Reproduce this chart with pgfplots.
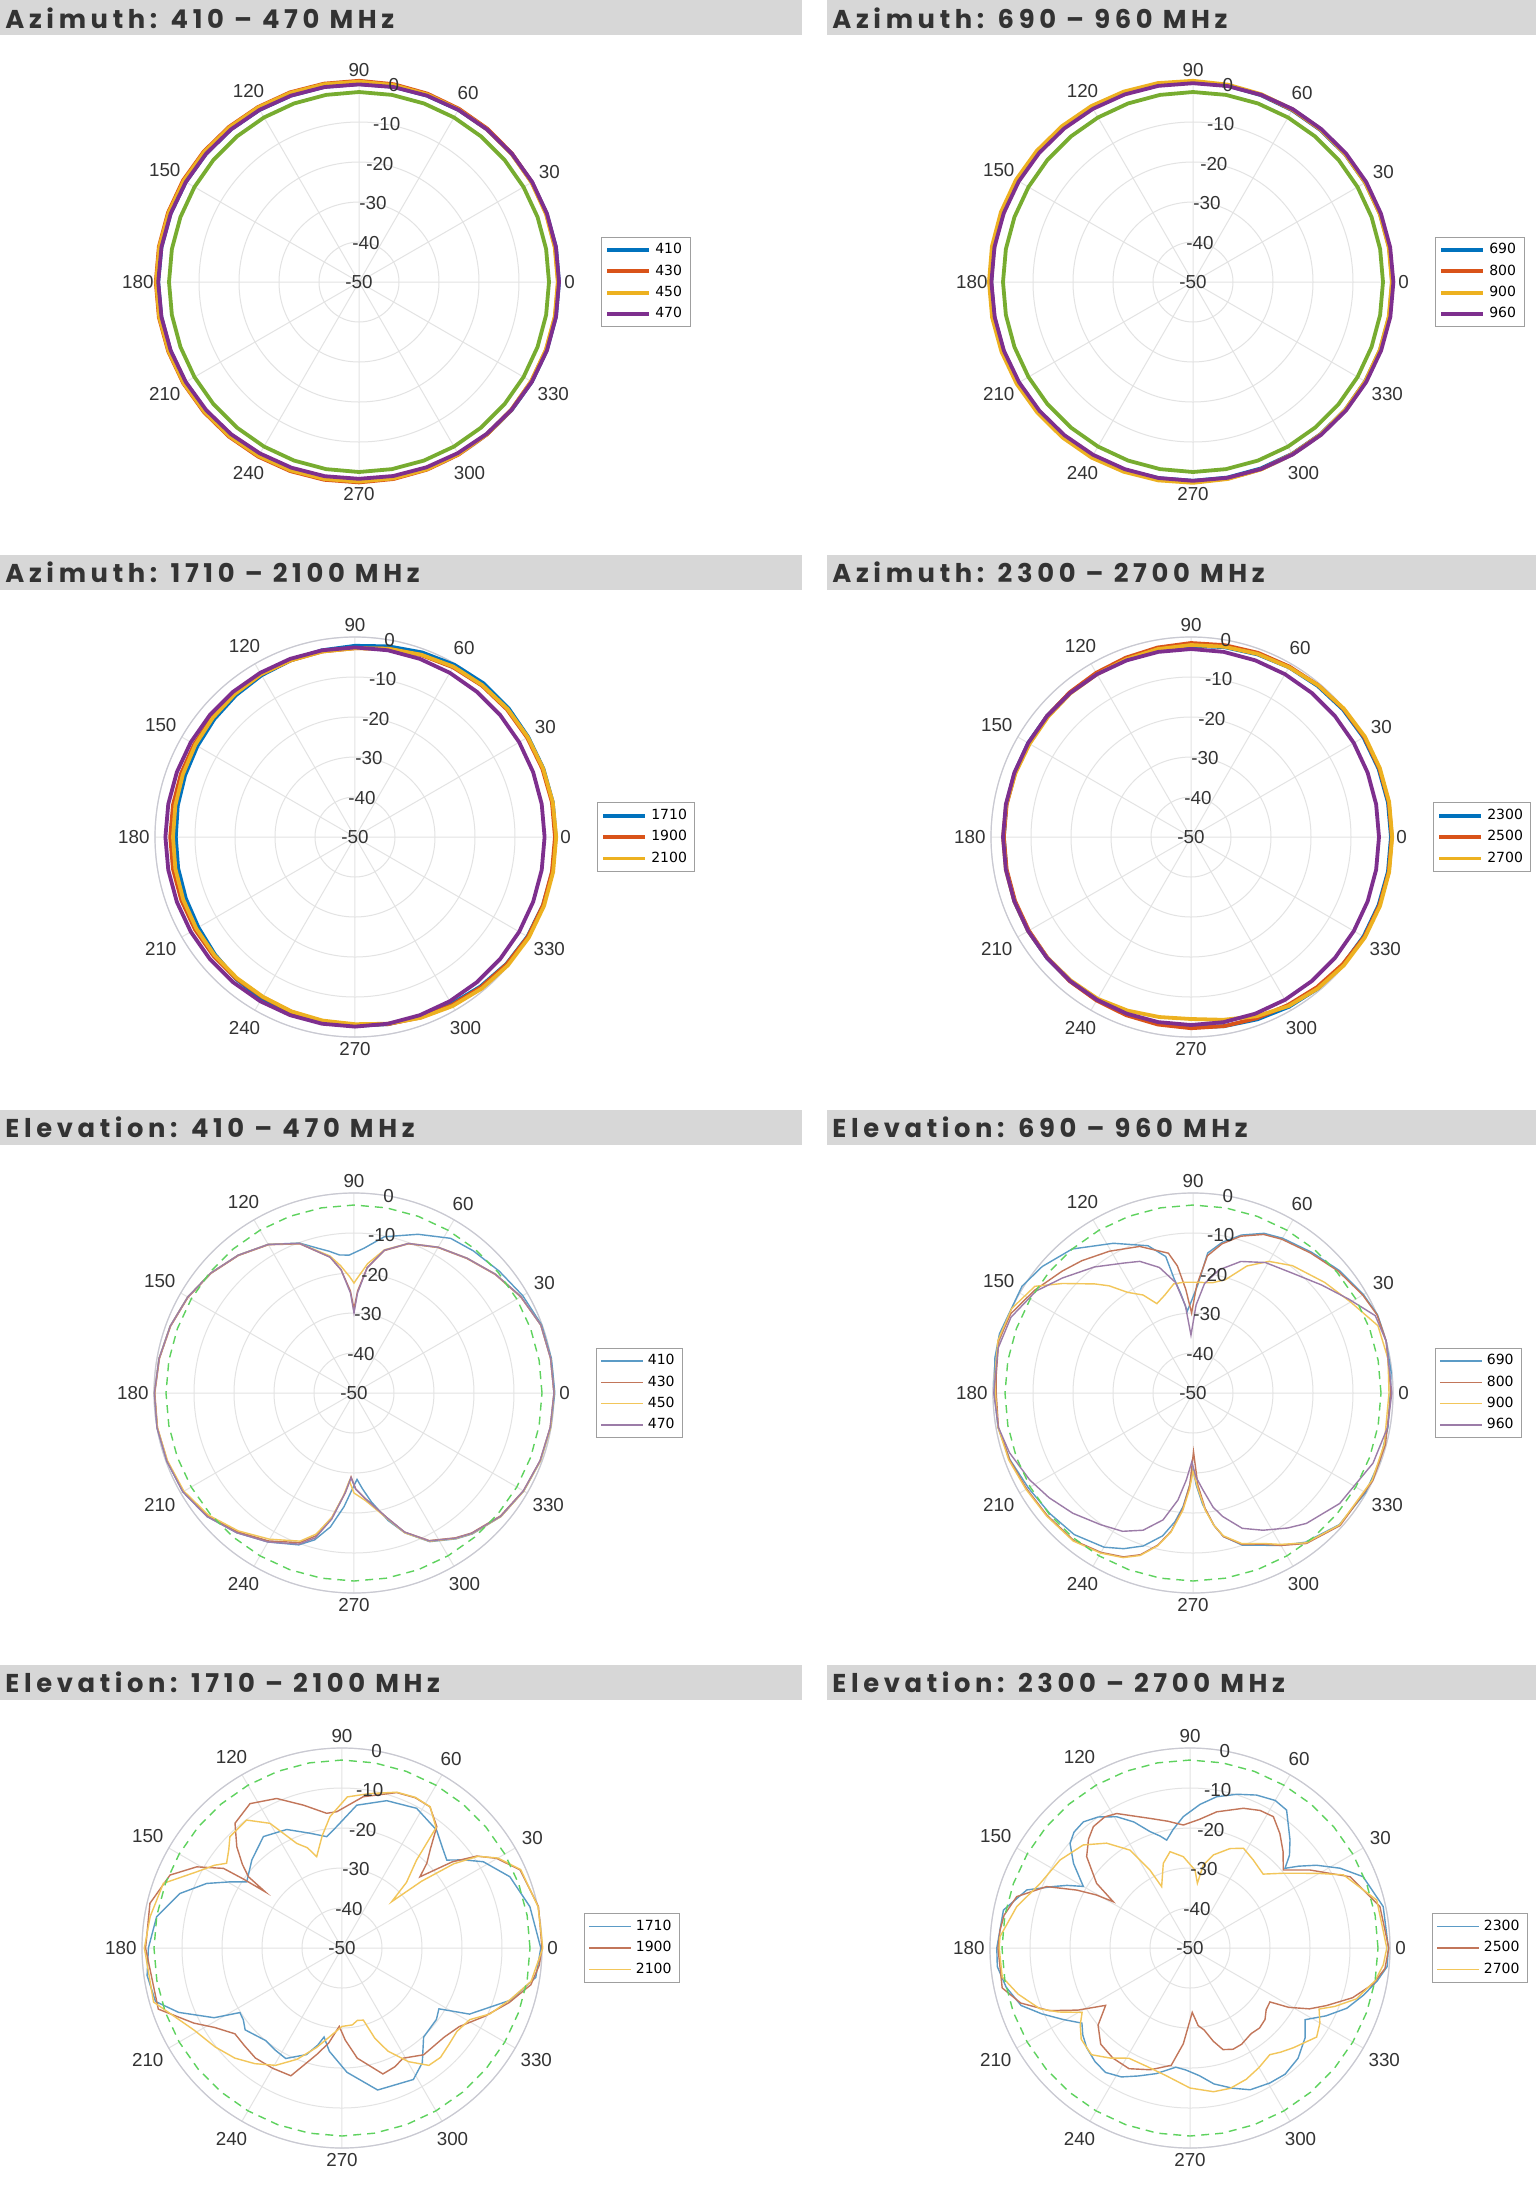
\documentclass[border=0pt]{standalone}
\usepackage{fontspec}
\setmainfont{Liberation Sans}
\newfontfamily\titlefont{Poppins}[LetterSpace=18]
\newfontfamily\legfont{DejaVu Sans}
\usepackage{pgfplots}
\usepackage{pgfplotstable}
\pgfplotsset{compat=1.18}
\usepgfplotslibrary{polar}

\definecolor{c1}{HTML}{0072BD}
\definecolor{c2}{HTML}{D95319}
\definecolor{c3}{HTML}{EDB120}
\definecolor{c4}{HTML}{7E2F8E}
\definecolor{c5}{HTML}{77AC30}
\definecolor{e1}{HTML}{5B9BC6}
\definecolor{e2}{HTML}{C2765A}
\definecolor{e3}{HTML}{F2C65A}
\definecolor{e4}{HTML}{9C7CA8}
\definecolor{gd}{HTML}{5ED25E}
\definecolor{barc}{HTML}{D7D7D7}
\definecolor{ttl}{HTML}{333333}
\definecolor{grd}{HTML}{E3E3E3}
\definecolor{rim}{HTML}{C9C9D2}

% azimuth data, dB, 10 degree steps
\pgfplotstableread{
a    s410  s430  s450  s470
0    0     -0.2  -0.3  0
10   0     -0.2  -0.3  0
20   -0.05 -0.15 -0.25 0
30   -0.1  -0.1  -0.2  0
40   -0.15 -0.05 -0.2  -0.1
50   -0.2  0     -0.2  -0.2
60   -0.3  0     -0.2  -0.3
70   -0.4  0.1   -0.1  -0.4
80   -0.45 0.2   0     -0.5
90   -0.5  0.3   0.1   -0.6
100  -0.45 0.35  0.2   -0.5
110  -0.4  0.45  0.3   -0.4
120  -0.3  0.5   0.4   -0.3
130  -0.2  0.6   0.45  -0.2
140  -0.1  0.7   0.55  -0.1
150  0     0.8   0.6   0
160  0.1   0.8   0.65  0.1
170  0.15  0.8   0.7   0.15
180  0.2   0.8   0.7   0.2
190  0.2   0.8   0.7   0.15
200  0.15  0.75  0.65  0.1
210  0.1   0.7   0.6   0
220  0     0.6   0.45  -0.15
230  -0.15 0.5   0.35  -0.3
240  -0.3  0.4   0.2   -0.5
250  -0.4  0.3   0.1   -0.6
260  -0.5  0.2   0     -0.7
270  -0.6  0.1   -0.1  -0.8
280  -0.55 0     -0.15 -0.75
290  -0.5  -0.1  -0.2  -0.7
300  -0.4  -0.2  -0.3  -0.6
310  -0.3  -0.25 -0.3  -0.4
320  -0.2  -0.3  -0.3  -0.25
330  -0.1  -0.3  -0.3  -0.1
340  -0.05 -0.25 -0.3  0
350  0     -0.2  -0.3  0
360  0     -0.2  -0.3  0
}\azA

\pgfplotstableread{
a    s690  s800  s900  s960
0    -0.2  -0.1  -0.3  0.1
10   -0.2  -0.15 -0.3  0.05
20   -0.25 -0.2  -0.3  0
30   -0.3  -0.2  -0.3  0
40   -0.35 -0.25 -0.3  -0.05
50   -0.4  -0.3  -0.25 -0.1
60   -0.4  -0.3  -0.2  -0.1
70   -0.3  -0.2  -0.05 -0.2
80   -0.15 -0.1  0.1   -0.25
90   0     0     0.3   -0.3
100  0.15  0.2   0.5   -0.2
110  0.3   0.35  0.65  -0.1
120  0.4   0.5   0.8   0
130  0.5   0.6   0.9   0.1
140  0.55  0.7   1.0   0.2
150  0.6   0.8   1.1   0.3
160  0.6   0.8   1.1   0.35
170  0.55  0.75  1.05  0.4
180  0.5   0.7   1.0   0.4
190  0.45  0.7   1.0   0.35
200  0.4   0.65  0.95  0.3
210  0.3   0.6   0.9   0.2
220  0.25  0.55  0.8   0.1
230  0.2   0.5   0.75  0
240  0.1   0.4   0.7   -0.1
250  -0.05 0.25  0.5   -0.2
260  -0.2  0.1   0.35  -0.25
270  -0.3  0     0.2   -0.3
280  -0.35 -0.1  0     -0.3
290  -0.4  -0.2  -0.15 -0.25
300  -0.4  -0.3  -0.3  -0.2
310  -0.35 -0.25 -0.3  -0.15
320  -0.3  -0.2  -0.3  -0.05
330  -0.3  -0.2  -0.3  0
340  -0.25 -0.15 -0.3  0.05
350  -0.2  -0.1  -0.3  0.1
360  -0.2  -0.1  -0.3  0.1
}\azB

\pgfplotstableread{
a    s1710 s1900 s2100
0    0.2   0     0.3
10   0.2   0     0.2
20   0.1   -0.15 0.05
30   0     -0.3  -0.1
40   0.1   -0.4  -0.2
50   0.1   -0.6  -0.45
60   -0.3  -1.0  -0.8
70   -0.9  -1.6  -1.5
80   -1.6  -2.2  -2.2
90   -2.2  -2.8  -2.8
100  -2.6  -2.9  -2.9
110  -3.0  -3.0  -3.0
120  -3.3  -3.0  -3.0
130  -3.7  -3.2  -3.3
140  -4.1  -3.4  -3.6
150  -4.5  -3.6  -3.9
160  -4.8  -3.7  -4.2
170  -5.0  -3.8  -4.4
180  -5.2  -3.8  -4.5
190  -5.1  -3.8  -4.4
200  -5.0  -3.8  -4.3
210  -4.8  -3.8  -4.2
220  -4.3  -3.8  -4.1
230  -3.7  -3.8  -4.0
240  -3.2  -3.8  -3.9
250  -3.0  -3.5  -3.6
260  -2.9  -3.2  -3.4
270  -2.8  -3.0  -3.2
280  -2.5  -2.5  -2.6
290  -2.2  -2.0  -1.9
300  -1.8  -1.5  -1.2
310  -1.2  -1.0  -0.6
320  -0.6  -0.5  -0.1
330  -0.2  -0.1  0.2
340  0     0     0.3
350  0.1   0     0.3
360  0.2   0     0.3
}\azC

\pgfplotstableread{
a    s2300 s2500 s2700
0    0     0.2   0.3
10   0     0.2   0.3
20   -0.1  0.1   0.25
30   -0.2  0     0.2
40   -0.4  -0.2  -0.1
50   -0.7  -0.5  -0.5
60   -1.0  -0.8  -1.0
70   -1.4  -1.0  -1.3
80   -1.8  -1.3  -1.7
90   -2.2  -1.5  -2.0
100  -2.4  -1.9  -2.3
110  -2.6  -2.3  -2.7
120  -2.8  -2.6  -3.0
130  -2.9  -2.8  -3.1
140  -3.0  -3.0  -3.3
150  -3.0  -3.2  -3.4
160  -3.1  -3.2  -3.3
170  -3.1  -3.2  -3.1
180  -3.2  -3.2  -3.0
190  -3.1  -3.2  -3.0
200  -3.0  -3.2  -3.0
210  -3.0  -3.2  -3.0
220  -3.0  -3.1  -3.1
230  -3.0  -2.9  -3.2
240  -3.0  -2.8  -3.3
250  -2.8  -2.6  -3.8
260  -2.6  -2.4  -4.3
270  -2.4  -2.2  -4.5
280  -2.0  -2.0  -3.6
290  -1.5  -1.8  -2.3
300  -1.0  -1.5  -1.2
310  -0.6  -1.0  -0.6
320  -0.4  -0.5  -0.1
330  -0.2  0     0.2
340  -0.1  0.1   0.3
350  0     0.2   0.3
360  0     0.2   0.3
}\azD

% reference circles
\pgfplotstableread{
a    r25  r26  r30
0    -2.5 -2.6 -3
10   -2.5 -2.6 -3
20   -2.5 -2.6 -3
30   -2.5 -2.6 -3
40   -2.5 -2.6 -3
50   -2.5 -2.6 -3
60   -2.5 -2.6 -3
70   -2.5 -2.6 -3
80   -2.5 -2.6 -3
90   -2.5 -2.6 -3
100  -2.5 -2.6 -3
110  -2.5 -2.6 -3
120  -2.5 -2.6 -3
130  -2.5 -2.6 -3
140  -2.5 -2.6 -3
150  -2.5 -2.6 -3
160  -2.5 -2.6 -3
170  -2.5 -2.6 -3
180  -2.5 -2.6 -3
190  -2.5 -2.6 -3
200  -2.5 -2.6 -3
210  -2.5 -2.6 -3
220  -2.5 -2.6 -3
230  -2.5 -2.6 -3
240  -2.5 -2.6 -3
250  -2.5 -2.6 -3
260  -2.5 -2.6 -3
270  -2.5 -2.6 -3
280  -2.5 -2.6 -3
290  -2.5 -2.6 -3
300  -2.5 -2.6 -3
310  -2.5 -2.6 -3
320  -2.5 -2.6 -3
330  -2.5 -2.6 -3
340  -2.5 -2.6 -3
350  -2.5 -2.6 -3
360  -2.5 -2.6 -3
}\refc

\tikzset{rl/.style={font=\fontsize{9.4}{11}\selectfont, text=ttl, inner sep=0pt}}
\pgfplotsset{
  pp/.style={
    scale only axis, width=200pt, height=200pt, anchor=center,
    xmin=0, xmax=360, ymin=-50, ymax=0,
    y coord trafo/.code={\pgfmathparse{##1+50}},
    y coord inv trafo/.code={\pgfmathparse{##1-50}},
    xtick={0,30,...,330}, ytick={-50,-40,...,0},
    /pgf/number format/assume math mode=true,
    xticklabel={\pgfmathprintnumber{\tick}},
    yticklabels={},
    xticklabel style={font=\fontsize{9.4}{11}\selectfont, text=ttl, inner sep=2.5pt},
    xmajorgrids, ymajorgrids,
    major grid style={grd, line width=0.5pt},
    x axis line style={rim, line width=0.6pt},
    y axis line style={draw=none},
    major tick length=0pt,
    clip=false,
    legend cell align=left,
    legend style={at={(1,0.5)}, anchor=west, xshift=21pt,
      font=\legfont\fontsize{7}{8}\selectfont, draw=gray!75,
      line width=0.5pt, inner xsep=2pt, inner ysep=1pt, row sep=0pt},
    legend image code/.code={\draw[##1] (0pt,0pt) -- (21pt,0pt);},
  },
  az/.style={line width=1.9pt},
  el/.style={line width=0.7pt},
  gdash/.style={el, gd, dash pattern=on 4pt off 3pt, forget plot},
}

\newcommand\rlabels{%
  \node[rl] at (axis cs:80,-50) {-50};
  \node[rl] at (axis cs:80,-40) {-40};
  \node[rl] at (axis cs:80,-30) {-30};
  \node[rl] at (axis cs:80,-20) {-20};
  \node[rl] at (axis cs:80,-10) {-10};
  \node[rl] at (axis cs:80,0) {0};
}
\newcommand\ttlfont{\titlefont\bfseries\fontsize{12.9}{14}\selectfont}

\begin{document}
\begin{tikzpicture}
\fill[white] (0,0) rectangle (768pt,-1101pt);

% title bars
\foreach \t in {0,277.3,554.75,832.25}{
  \fill[barc] (0pt,-\t pt) rectangle (401pt,-\t pt-17.5pt);
  \fill[barc] (413.5pt,-\t pt) rectangle (768pt,-\t pt-17.5pt);
}
\node[anchor=base west, inner sep=0, text=ttl, font=\ttlfont] at (2.5pt,-14pt) {Azimuth: 410 – 470 MHz};
\node[anchor=base west, inner sep=0, text=ttl, font=\ttlfont] at (416pt,-14pt) {Azimuth: 690 – 960 MHz};
\node[anchor=base west, inner sep=0, text=ttl, font=\ttlfont] at (2.5pt,-291.3pt) {Azimuth: 1710 – 2100 MHz};
\node[anchor=base west, inner sep=0, text=ttl, font=\ttlfont] at (416pt,-291.3pt) {Azimuth: 2300 – 2700 MHz};
\node[anchor=base west, inner sep=0, text=ttl, font=\ttlfont] at (2.5pt,-568.75pt) {Elevation: 410 – 470 MHz};
\node[anchor=base west, inner sep=0, text=ttl, font=\ttlfont] at (416pt,-568.75pt) {Elevation: 690 – 960 MHz};
\node[anchor=base west, inner sep=0, text=ttl, font=\ttlfont] at (2.5pt,-846.25pt) {Elevation: 1710 – 2100 MHz};
\node[anchor=base west, inner sep=0, text=ttl, font=\ttlfont] at (416pt,-846.25pt) {Elevation: 2300 – 2700 MHz};

% ---------- Azimuth 410-470
\begin{polaraxis}[pp, at={(179.5pt,-141pt)}]
\addplot[az, c1] table[x=a, y=s410] {\azA};
\addplot[az, c2] table[x=a, y=s430] {\azA};
\addplot[az, c3] table[x=a, y=s450] {\azA};
\addplot[az, c4] table[x=a, y=s470] {\azA};
\addplot[az, c5, forget plot] table[x=a, y=r25] {\refc};
\legend{410,430,450,470}
\rlabels
\end{polaraxis}

% ---------- Azimuth 690-960
\begin{polaraxis}[pp, at={(596.5pt,-141pt)}]
\addplot[az, c1] table[x=a, y=s690] {\azB};
\addplot[az, c2] table[x=a, y=s800] {\azB};
\addplot[az, c3] table[x=a, y=s900] {\azB};
\addplot[az, c4] table[x=a, y=s960] {\azB};
\addplot[az, c5, forget plot] table[x=a, y=r25] {\refc};
\legend{690,800,900,960}
\rlabels
\end{polaraxis}

% ---------- Azimuth 1710-2100
\begin{polaraxis}[pp, at={(177.5pt,-418.5pt)}]
\addplot[az, c1] table[x=a, y=s1710] {\azC};
\addplot[az, c2] table[x=a, y=s1900] {\azC};
\addplot[az, c3] table[x=a, y=s2100] {\azC};
\addplot[az, c4, forget plot] table[x=a, y=r26] {\refc};
\legend{1710,1900,2100}
\rlabels
\end{polaraxis}

% ---------- Azimuth 2300-2700
\begin{polaraxis}[pp, at={(595.5pt,-418.5pt)}]
\addplot[az, c1] table[x=a, y=s2300] {\azD};
\addplot[az, c2] table[x=a, y=s2500] {\azD};
\addplot[az, c3] table[x=a, y=s2700] {\azD};
\addplot[az, c4, forget plot] table[x=a, y=r30] {\refc};
\legend{2300,2500,2700}
\rlabels
\end{polaraxis}

% ---------- Elevation 410-470
\begin{polaraxis}[pp, at={(177pt,-696.5pt)}]
\addplot[el, e1] coordinates {(0,0.2) (10,0.1) (20,-0.1) (30,-1.3) (40,-2.6) (50,-3.6) (58,-4.4) (68,-7.2) (79,-10.2) (86,-13.7) (92,-15.5) (96,-15.3) (100,-14) (104,-12.7) (110,-10.1) (120,-7.1) (130,-5) (140,-3.3) (150,-2) (160,-1.1) (170,-0.5) (180,-0.1) (190,0) (200,-0.2) (210,-0.6) (220,-2) (230,-4.4) (240,-7) (250,-9.6) (255,-12) (260,-16) (265,-21.5) (269,-26) (272,-28.4) (275,-26) (279,-22.5) (285,-17) (290,-12.8) (297,-8.3) (305,-5.5) (310,-4) (320,-2) (330,-1) (340,-0.4) (350,-0.1) (360,0.2)};
\addplot[el, e2] coordinates {(0,0) (10,-0.1) (20,-0.3) (30,-1.9) (40,-3.9) (50,-6.1) (60,-8) (70,-10.3) (78,-13.6) (84,-18.5) (88,-24.5) (90,-29) (92,-24.5) (96,-19) (100,-15.5) (110,-10.3) (120,-7.2) (130,-5.1) (140,-3.4) (150,-2.1) (160,-1.2) (170,-0.6) (180,-0.2) (190,-0.1) (200,-0.3) (210,-0.7) (220,-2.2) (230,-4.7) (240,-7.3) (250,-10.2) (255,-13) (260,-18.5) (265,-25) (268,-29) (271,-26) (276,-23.5) (285,-17.6) (290,-13) (297,-8.6) (305,-5.8) (310,-4.3) (320,-2.2) (330,-1.1) (340,-0.5) (350,-0.2) (360,0)};
\addplot[el, e3] coordinates {(0,0) (10,-0.1) (20,-0.3) (30,-1.8) (40,-3.8) (50,-6) (60,-7.9) (70,-10.2) (78,-13.4) (84,-17.5) (88,-21) (90,-22.5) (92,-21) (96,-18) (100,-15.2) (110,-10.2) (120,-7.1) (130,-5) (140,-3.3) (150,-2) (160,-1.1) (170,-0.5) (180,-0.1) (190,-0.1) (200,-0.4) (210,-0.9) (220,-2.5) (230,-5) (240,-7.8) (250,-10.6) (255,-13.5) (260,-18.5) (264,-24) (267,-28) (270,-25) (276,-23) (285,-17.4) (290,-12.8) (297,-8.4) (305,-5.6) (310,-4.1) (320,-2) (330,-1) (340,-0.4) (350,-0.1) (360,0)};
\addplot[el, e4] coordinates {(0,0) (10,-0.1) (20,-0.3) (30,-1.8) (40,-3.8) (50,-6) (60,-7.9) (70,-10.2) (78,-13.5) (84,-18.5) (88,-25) (90,-30) (92,-25) (96,-19) (100,-15.5) (110,-10.2) (120,-7.1) (130,-5) (140,-3.3) (150,-2) (160,-1.1) (170,-0.5) (180,-0.1) (190,0) (200,-0.2) (210,-0.6) (220,-2) (230,-4.4) (240,-7) (250,-9.8) (255,-12.5) (260,-18) (265,-25) (268,-28.8) (271,-26) (276,-23.5) (285,-17.6) (290,-13) (297,-8.5) (305,-5.7) (310,-4.2) (320,-2.1) (330,-1.1) (340,-0.5) (350,-0.2) (360,0)};
\addplot[gdash] table[x=a, y=r30] {\refc};
\legend{410,430,450,470}
\rlabels
\end{polaraxis}

% ---------- Elevation 690-960
\begin{polaraxis}[pp, at={(596.5pt,-696.5pt)}]
\addplot[el, e1] coordinates {(0,-0.7) (6,-0.2) (15,0) (23,0.1) (30,-0.8) (40,-2.3) (50,-4) (60,-5.3) (66,-6.3) (73,-8.7) (79,-11.6) (84,-14.8) (87.5,-23) (91,-27) (94,-29.5) (97,-25) (99.4,-21) (101.3,-15.2) (107,-11.5) (118,-7.6) (130,-3) (140,-0.8) (148,0.4) (163,0.6) (170,0.3) (180,-0.3) (190,-0.5) (200,-1.3) (210,-2.5) (220,-3.2) (230,-3.8) (240,-5.5) (246,-7.4) (252,-9.8) (258,-13.5) (262,-17.5) (265,-21.5) (268,-27) (270,-31) (272,-27) (275,-22) (279,-16.5) (282,-13.3) (288,-10) (295,-8) (300,-6) (307,-3.3) (318,-0.8) (330,-0.2) (340,-0.3) (350,-0.5) (360,-0.7)};
\addplot[el, e2] coordinates {(0,-0.5) (15,0) (23,0) (30,-1) (40,-2.6) (50,-4.3) (60,-5.6) (66,-6.6) (73,-9) (79,-12) (84,-15.5) (88,-23) (91,-30) (94,-24) (97,-18) (100,-14.5) (110,-11) (120.5,-8.85) (130,-6.8) (137,-5.3) (147,-2.8) (156.5,-0.3) (165,0.3) (175,-0.6) (180,-0.8) (190,-0.6) (200,-1.2) (210,-2) (220,-2.4) (231,-2.6) (240,-4) (247,-5.5) (252,-7.5) (257,-11) (261,-15) (265,-21) (268,-27) (270.5,-35.3) (273,-27) (276,-21) (279,-16.5) (282,-13.3) (288,-10.2) (295,-8.3) (300,-6) (307,-2.9) (318,-0.5) (334,0) (345,-0.2) (360,-0.5)};
\addplot[el, e3] coordinates {(0,-1) (10,-0.5) (20,-0.8) (30,-4.5) (40,-7) (52,-9.6) (60,-12) (67,-15.5) (74,-20.5) (80,-22) (88,-22.3) (95,-22.2) (100,-22.3) (106,-24.5) (112,-25.9) (117,-22.5) (123,-20) (128,-16) (132,-13.3) (140,-7.4) (146,-2.3) (155,0) (165,0.5) (175,-0.3) (180,-0.6) (190,-0.5) (200,-1) (210,-1.8) (220,-2.2) (231,-2.4) (240,-3.8) (247,-5.3) (252,-7.3) (257,-10.8) (261,-14.8) (265,-20.5) (268,-26) (270,-30.5) (273,-26) (276,-20.5) (279,-16.5) (282,-13.5) (288,-10.4) (295,-8.5) (300,-6.3) (307,-3.1) (318,-0.7) (334,-0.2) (345,-0.5) (360,-1)};
\addplot[el, e4] coordinates {(0,-0.3) (15,0) (23,-0.5) (31,-4.5) (40,-8) (50,-11) (61,-12.7) (70,-15) (78,-18.5) (84,-22.5) (88,-28) (92,-35.5) (95,-28) (99,-22) (105,-17.5) (112,-14.5) (118,-13.2) (128,-10) (138.6,-6.5) (147,-3.2) (157.4,-0.7) (167,0) (180,-0.2) (190,-0.6) (198,-1.75) (208,-3.75) (216,-5.5) (225,-7.5) (235,-9.8) (243,-11.2) (250,-13.5) (256.7,-17.4) (262,-23) (265.6,-28.2) (269,-32.8) (272,-29) (275.9,-25.6) (280,-21) (283.6,-18.2) (290,-14) (297,-11.5) (305,-8.8) (311,-6.8) (323,-4.1) (338.7,-1.7) (350,-0.6) (360,-0.3)};
\addplot[gdash] table[x=a, y=r30] {\refc};
\legend{690,800,900,960}
\rlabels
\end{polaraxis}

% ---------- Elevation 1710-2100
\begin{polaraxis}[pp, at={(171pt,-974pt)}]
\addplot[el, e1] coordinates {(0,-0.3) (12.4,-1.9) (23,-4.4) (31.4,-8.6) (36,-12.5) (40,-15.8) (45,-14.5) (51.3,-12.2) (61.9,-10.4) (73.1,-11.5) (84.1,-14.1) (92.5,-19.6) (97.8,-21.9) (105.6,-20.2) (115,-17.3) (125.2,-15.9) (135.7,-18.5) (145.2,-21) (149.4,-17.5) (154.5,-12.5) (161.4,-7.25) (170.4,-3) (180,-1.6) (188,-0.8) (196,-1.5) (201.5,-6.1) (208.6,-13.6) (212.3,-19.8) (216,-19.5) (220.2,-18.3) (230.4,-20) (237,-19.5) (243,-19) (251.5,-21.9) (256,-25) (258.6,-27.3) (263,-24) (272.3,-18.9) (284.1,-13.4) (298.5,-12.6) (305,-15) (312.5,-19.8) (322.9,-20.4) (327.9,-21.4) (332.6,-14.1) (342.8,-5.9) (351.4,-1) (360,-0.3)};
\addplot[el, e2] coordinates {(0,0) (11.9,0.2) (23.7,-1.4) (30.1,-5.3) (34.3,-9.2) (38,-15) (42.4,-23.6) (45,-20) (48.1,-17) (52,-11.5) (58.1,-8.4) (64,-8.2) (70.6,-8.8) (82,-11.8) (92.2,-15.9) (96.5,-16.1) (105.1,-13) (113.6,-9.2) (122.5,-7.2) (130.6,-8.9) (136.1,-13.5) (140,-17.5) (142.7,-20.6) (143.8,-26.2) (145,-20) (146.1,-14.3) (150.8,-8.4) (157,-3.3) (166.9,-0.7) (180,-0.9) (198.4,-1.6) (206.9,-8.5) (212,-12.5) (218.7,-15.7) (225,-15.5) (231.8,-15) (240,-15.3) (248.2,-15.6) (256.6,-22.6) (262,-26) (268,-30.4) (272,-27) (277.9,-22.2) (288,-16.9) (294,-17.5) (299,-18.5) (307.4,-16.4) (318.9,-16.1) (326.2,-14.7) (334.5,-10.4) (342,-6) (349,-1.9) (355,-0.5) (360,0)};
\addplot[el, e3] coordinates {(0,0.2) (11.9,0.1) (23.7,-1.2) (30,-5) (34,-9) (37,-15) (40,-24) (43,-33) (45.5,-27) (49.7,-21.2) (52,-11.8) (58,-8.4) (64,-8.1) (70.6,-8.7) (80,-10.8) (88,-12.2) (95.2,-17) (100,-21.5) (105.5,-26.3) (109,-23.5) (113.4,-21.5) (120,-14) (126.7,-10.1) (135.2,-10.5) (139,-12.5) (143.7,-14.2) (147,-12) (152.3,-9) (160.1,-2.5) (170.7,-1.4) (180,-0.6) (196,-1) (209,-7.7) (218,-9.8) (225.8,-11.6) (233,-13.8) (240.5,-16.3) (248,-20) (255.6,-24.3) (263,-28) (270,-30.4) (277.6,-30.6) (282,-31.5) (286.5,-31.2) (290,-26) (294,-21.8) (300.3,-17.1) (306.5,-13.5) (312,-13.2) (318,-14) (324,-14.5) (330.7,-13.4) (336,-9.5) (343,-6) (350,-2) (360,0.2)};
\addplot[gdash] table[x=a, y=r30] {\refc};
\legend{1710,1900,2100}
\rlabels
\end{polaraxis}

% ---------- Elevation 2300-2700
\begin{polaraxis}[pp, at={(595pt,-974pt)}]
\addplot[el, e1] coordinates {(0,-0.4) (12.1,-0.6) (22.4,-3.2) (28,-7.5) (33.2,-12.2) (37,-16) (40,-19) (43,-16) (47.2,-13.2) (55,-7.9) (60,-7.4) (66.5,-8.3) (73,-9.8) (80,-11.6) (86,-14) (92.9,-17.1) (98,-20) (102.2,-22.4) (105,-21) (109,-19.2) (114,-15.5) (119.2,-12.4) (125,-10) (130.2,-8.7) (135,-9) (138.9,-10.2) (144,-14) (150,-19.2) (153,-15.5) (155.8,-12.5) (160.4,-6.7) (168.5,-2.4) (180,-1.7) (185.5,-1.6) (192,-3) (198.8,-5.4) (204,-9.5) (209.4,-13.6) (214.8,-17.1) (219,-15.5) (224,-14.1) (230,-13) (235.8,-12.4) (242,-13.5) (248,-15.5) (255,-17.5) (263.2,-20) (268,-19.5) (274.2,-18) (280,-15.5) (286.8,-13.4) (293,-11.5) (300.6,-10.8) (307,-10.5) (314.4,-11.4) (322,-13.5) (328.1,-16.1) (333.5,-12) (339,-8) (344.9,-5) (350,-2.5) (354.6,-0.5) (360,-0.4)};
\addplot[el, e2] coordinates {(0,-0.3) (12.3,-1.4) (24,-6.2) (33,-14.2) (39.9,-19.6) (46,-16.5) (51.9,-13.6) (57.6,-11.1) (63,-11.4) (69.1,-12.6) (78.9,-15.3) (86,-17.8) (93.1,-19.2) (100,-17.8) (107.1,-16.1) (118.6,-11.7) (123,-10.9) (128.5,-11.2) (133,-12.8) (138.5,-15.5) (145.3,-21.6) (148.9,-27.6) (150.5,-23) (152.9,-18.2) (156.8,-11) (163.5,-4.8) (170,-2.8) (174.6,-2.3) (180,-2) (192,-2) (198,-5.5) (204,-11.5) (209,-18) (214.2,-24.5) (220,-20) (227.1,-17.2) (235,-16.4) (243.2,-16.2) (252,-18) (260.9,-20.3) (266,-26) (272,-33.9) (276,-30.5) (279.8,-29.2) (284,-26) (288,-23.3) (293,-22.5) (298.2,-22.7) (305.5,-23.7) (311,-23.5) (316.4,-24.1) (321,-25.5) (326,-25.9) (329,-21.2) (333,-16.5) (337.1,-13) (343,-7.5) (348.8,-3.4) (354,-1) (360,-0.3)};
\addplot[el, e3] coordinates {(0,-0.8) (14.4,-1.8) (25.5,-7.5) (30.5,-13.2) (38.7,-20.1) (45.3,-24) (54.3,-22.9) (61.8,-21.7) (68.1,-23.2) (75.9,-26) (80.9,-29) (83.5,-33.7) (86.3,-30.5) (94.2,-27.1) (101.7,-25.4) (107.5,-27.8) (114.8,-33.1) (117.2,-28.1) (121.5,-21.3) (128.5,-16.5) (136,-12.9) (145.9,-10.75) (156.7,-9.2) (166.6,-5.45) (176.6,-2.4) (180,-2.3) (188.8,-2.5) (195,-5.5) (202,-9.5) (206,-13.5) (210.8,-18.6) (215,-16.5) (220,-14.5) (227.3,-13.7) (234,-16) (241,-18.5) (250,-18.5) (259.6,-17.5) (270,-15) (279.3,-13.6) (286,-13.5) (293.2,-14.3) (300,-15.5) (306.8,-16.7) (311,-15.5) (316,-14.1) (324.9,-11.3) (330,-12.5) (334.7,-14.3) (338,-11) (343,-6.5) (350,-3) (355,-1.5) (360,-0.8)};
\addplot[gdash] table[x=a, y=r30] {\refc};
\legend{2300,2500,2700}
\rlabels
\end{polaraxis}

\pgfresetboundingbox
\useasboundingbox (0,0) rectangle (768pt,-1101pt);
\end{tikzpicture}
\end{document}
